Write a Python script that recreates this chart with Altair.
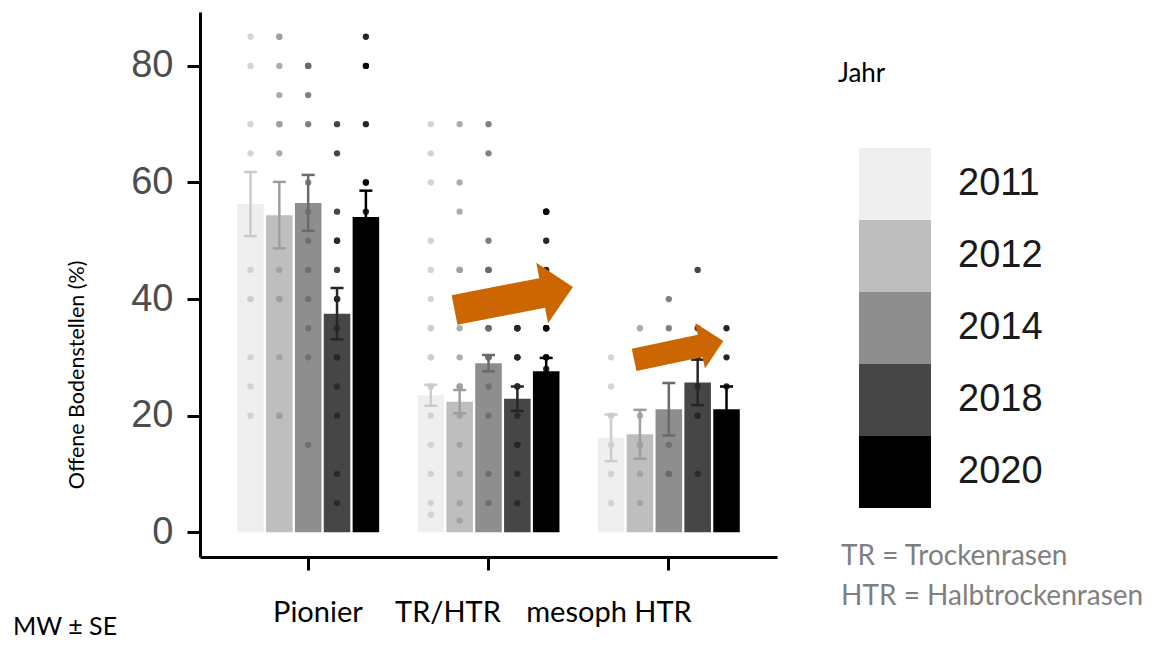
import altair as alt
import pandas as pd

groups = ["Pionier", "TR/HTR", "mesoph HTR"]
years = ["2011", "2012", "2014", "2018", "2020"]

# means (MW) and standard errors (SE) per year
mean_pionier = [56.3, 54.4, 56.5, 37.5, 54.1]
se_pionier = [5.5, 5.7, 4.8, 4.4, 4.5]
mean_trhtr = [23.5, 22.4, 29.0, 22.9, 27.6]
se_trhtr = [1.8, 2.0, 1.4, 2.1, 2.3]
mean_mesoph = [16.2, 16.8, 21.1, 25.7, 21.1]
se_mesoph = [4.0, 4.2, 4.5, 3.9, 3.9]

# single plot values (one list per year: 2011, 2012, 2014, 2018, 2020)
pts_pionier = [
    [85, 80, 70, 65, 45, 40, 40, 30, 25, 20],
    [85, 85, 80, 75, 70, 70, 65, 45, 40, 40, 40, 30, 20, 20],
    [80, 80, 80, 75, 70, 60, 55, 50, 45, 40, 35, 30, 15],
    [70, 65, 55, 50, 50, 45, 40, 40, 40, 35, 30, 30, 25, 20, 10, 5],
    [85, 80, 80, 70, 60, 60, 55],
]
pts_trhtr = [
    [70, 65, 60, 50, 45, 40, 35, 35, 30, 30, 25, 25, 20, 15, 10, 5, 3],
    [70, 60, 55, 45, 45, 35, 30, 25, 25, 20, 15, 10, 5, 2],
    [70, 65, 50, 45, 45, 45, 35, 35, 35, 30, 30, 30, 25, 20, 10, 5],
    [35, 35, 35, 30, 30, 30, 25, 25, 20, 15, 15, 10, 5],
    [55, 55, 55, 50, 45, 35, 35, 35, 30, 30, 30, 28],
]
pts_mesoph = [
    [30, 25, 20, 20, 15, 10, 5],
    [35, 30, 20, 15, 15, 10, 5],
    [40, 35, 15, 10, 10, 10],
    [45, 35, 30, 25, 20, 20, 10],
    [35, 30, 25],
]

bar_colors = ["#EFEFEF", "#BEBEBE", "#8E8E8E", "#464646", "#000000"]
err_colors = ["#CCCCCC", "#9E9E9E", "#6A6A6A", "#262626", "#000000"]
orange = "#CC6600"

rows = []
for g, means, ses in zip(groups, [mean_pionier, mean_trhtr, mean_mesoph],
                         [se_pionier, se_trhtr, se_mesoph]):
    for yr, m, s in zip(years, means, ses):
        rows.append({"group": g, "year": yr, "mean": m, "lo": m - s, "hi": m + s})
summary = pd.DataFrame(rows)

prow = []
for g, plist in zip(groups, [pts_pionier, pts_trhtr, pts_mesoph]):
    for yr, vals in zip(years, plist):
        for v in vals:
            prow.append({"group": g, "year": yr, "value": v})
points = pd.DataFrame(prow)

yscale = alt.Scale(domain=[-4.25, 89.25], nice=False, zero=False)
xscale = alt.Scale(domain=groups, paddingInner=0.2, paddingOuter=0.2)
xoff = alt.Scale(domain=years, paddingInner=0.08, paddingOuter=0.04)

xax = alt.Axis(title=None, labels=False, ticks=True, tickSize=13, tickWidth=3,
               tickColor="black", domainColor="black", domainWidth=3, grid=False)
yax = alt.Axis(title=None, values=[0, 20, 40, 60, 80], tickSize=13, tickWidth=3,
               tickColor="black", domainColor="black", domainWidth=3,
               labelFont="Liberation Sans", labelFontSize=38, labelColor="#4D4D4D",
               labelPadding=14, grid=False)

X = alt.X("group:N", scale=xscale, sort=groups, axis=xax)
XO = alt.XOffset("year:N", scale=xoff, sort=years)


def Y(field):
    return alt.Y(field, scale=yscale, axis=yax)


bars = alt.Chart(summary).mark_bar().encode(
    x=X,
    xOffset=XO,
    y=Y("mean:Q"),
    y2=alt.datum(0),
    color=alt.Color("year:N", sort=years, scale=alt.Scale(domain=years, range=bar_colors),
                    legend=alt.Legend(title=None, orient="none", legendX=659, legendY=136,
                                      symbolType="square", symbolSize=5184, symbolStrokeWidth=0,
                                      symbolOpacity=1, labelFont="Liberation Sans",
                                      labelFontSize=38, labelColor="#1A1A1A", labelOffset=27,
                                      rowPadding=0, padding=0, labelLimit=300)),
)

ecol = alt.Color("year:N", sort=years, scale=alt.Scale(domain=years, range=err_colors), legend=None)
err = alt.Chart(summary).mark_rule(strokeWidth=2.5).encode(
    x=X, xOffset=XO, y=Y("lo:Q"), y2="hi:Q", color=ecol)
cap_hi = alt.Chart(summary).mark_tick(size=13, thickness=2.5, opacity=1).encode(
    x=X, xOffset=XO, y=Y("hi:Q"), color=ecol)
cap_lo = alt.Chart(summary).mark_tick(size=13, thickness=2.5, opacity=1).encode(
    x=X, xOffset=XO, y=Y("lo:Q"), color=ecol)

pcol = alt.Color("year:N", sort=years, scale=alt.Scale(domain=years, range=err_colors), legend=None)
pts = alt.Chart(points).mark_circle(size=40, opacity=0.85).encode(
    x=X, xOffset=XO, y=Y("value:Q"), color=pcol)

data_layer = alt.layer(bars, err, cap_hi, cap_lo, pts).resolve_scale(color="independent")

# ---- annotations (continuous x in group units, same y scale) ----
ax = alt.Scale(domain=[0.4, 3.6], nice=False, zero=False)
AX = alt.X("x:Q", scale=ax, axis=None)
AY = Y("y:Q")

arrow_df = pd.DataFrame({"x": [2.140, 3.055], "y": [40.1, 31.2],
                         "size": [14544, 8317], "angle": [349, 348]})
arrow_path = "M-1,-0.25L0.48,-0.25L0.48,-0.51L1,0L0.48,0.51L0.48,0.25L-1,0.25Z"
arrows = alt.Chart(arrow_df).mark_point(shape=arrow_path, filled=True, color=orange,
                                        opacity=1, strokeWidth=0).encode(
    x=AX, y=AY,
    size=alt.Size("size:Q", scale=None),
    angle=alt.Angle("angle:Q", scale=None),
)

grp_lbl = pd.DataFrame({"x": [1.054, 1.775, 2.668], "y": [-13.9] * 3, "t": groups})
grp_text = alt.Chart(grp_lbl).mark_text(font="Lato", fontSize=29, color="black",
                                        align="center", baseline="middle").encode(
    x=AX, y=AY, text="t:N")

ytitle_df = pd.DataFrame({"x": [-0.277], "y": [27.0], "t": ["Offene Bodenstellen (%)"]})
ytitle = alt.Chart(ytitle_df).mark_text(font="Lato", fontSize=21.5, color="black", angle=270,
                                        align="center", baseline="middle").encode(
    x=AX, y=AY, text="t:N")

jahr_df = pd.DataFrame({"x": [3.938], "y": [78.6], "t": ["Jahr"]})
jahr = alt.Chart(jahr_df).mark_text(font="Lato", fontSize=26, color="black",
                                    align="left", baseline="middle").encode(
    x=AX, y=AY, text="t:N")

note_df = pd.DataFrame({"x": [3.955, 3.955], "y": [-4.25, -11.1],
                        "t": ["TR = Trockenrasen", "HTR = Halbtrockenrasen"]})
notes = alt.Chart(note_df).mark_text(font="Lato", fontSize=28, color="#7F7F7F",
                                     align="left", baseline="middle").encode(
    x=AX, y=AY, text="t:N")

mw_df = pd.DataFrame({"x": [-0.637], "y": [-16.3], "t": ["MW ± SE"]})
mw = alt.Chart(mw_df).mark_text(font="Lato", fontSize=25, color="black",
                                align="left", baseline="middle").encode(
    x=AX, y=AY, text="t:N")

annot_layer = alt.layer(arrows, grp_text, ytitle, jahr, notes, mw)

chart = alt.layer(data_layer, annot_layer).resolve_scale(x="independent").properties(
    width=577, height=545,
    padding={"left": 192, "top": 4, "right": 370, "bottom": 86},
    autosize=alt.AutoSizeParams(type="none"),
    background="white",
).configure_view(stroke=None)

chart.save("out.html", embed_options={"renderer": "svg", "actions": False})
